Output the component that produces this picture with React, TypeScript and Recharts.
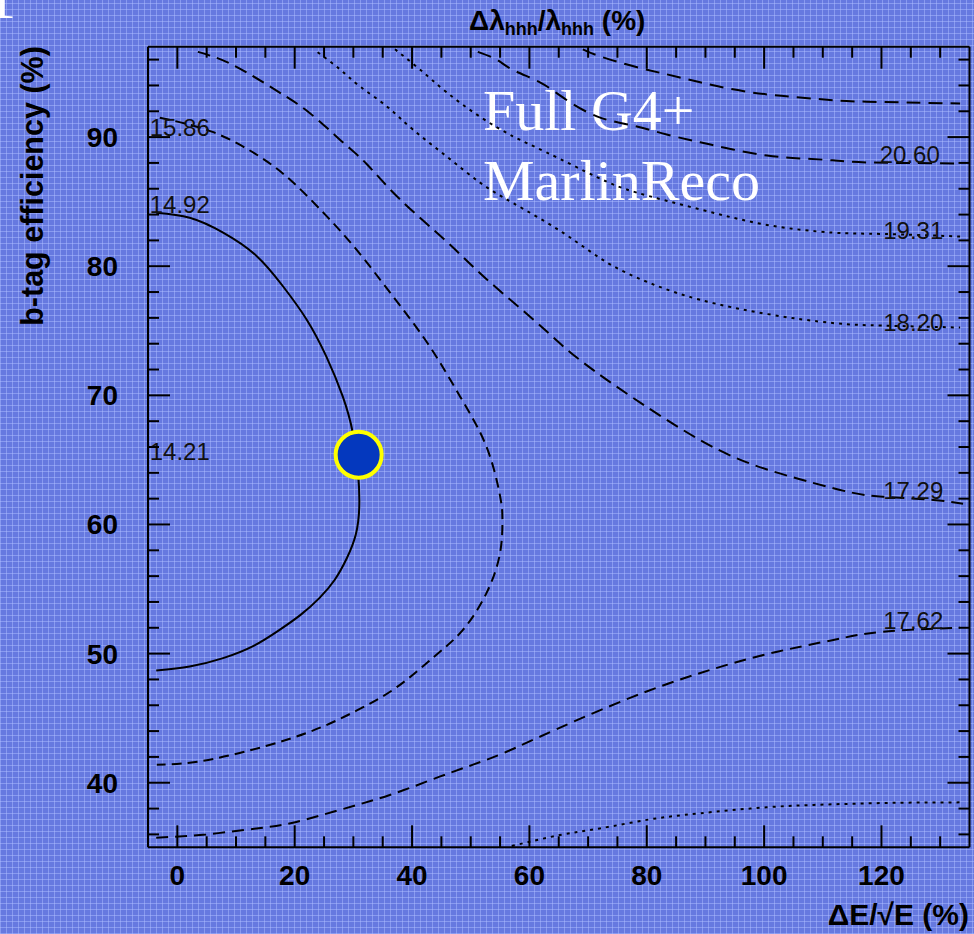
import React from 'react';
import { LineChart, Line, XAxis, YAxis, ReferenceDot } from 'recharts';

type Pt = [number, number];

// contour lines as [dE/sqrt(E) %, b-tag eff %]
const contour1492: Pt[] = [
  [-3.6, 84.14], [2.1, 83.75], [7.8, 82.6], [13.5, 80.8], [18.0, 78.45], [22.0, 75.9],
  [25.4, 73.0], [28.2, 69.9], [29.9, 67.1], [30.8, 64.0], [31.0, 61.3], [30.4, 59.2],
  [28.9, 57.4], [26.8, 55.7], [24.2, 54.3], [21.0, 53.0], [17.3, 51.8], [13.0, 50.6],
  [7.8, 49.65], [2.1, 49.0], [-3.6, 48.7],
];
const contour1586: Pt[] = [
  [-3.0, 91.5], [6.0, 90.4], [14.0, 88.5], [19.7, 86.5], [25.4, 83.9], [30.5, 81.3],
  [36.7, 77.7], [43.0, 73.8], [48.2, 69.9], [52.7, 66.0], [55.0, 62.2], [55.4, 60.4],
  [55.0, 57.8], [52.7, 54.7], [48.6, 51.8], [43.6, 49.7], [37.4, 47.4], [30.6, 45.6],
  [22.0, 43.85], [10.6, 42.3], [2.1, 41.55], [-3.5, 41.4],
];
const contourLowDashed: Pt[] = [
  [-3.6, 35.74], [4.9, 36.0], [13.5, 36.46], [19.7, 36.9], [27.7, 37.9], [36.2, 39.05],
  [44.7, 40.47], [50.4, 41.4], [56.1, 42.4], [64.6, 44.14], [77.7, 46.67], [89.0, 48.48],
  [100.4, 49.95], [111.8, 51.06], [120.3, 51.7], [133.4, 52.0],
];
const contourLowDotted: Pt[] = [
  [57.0, 35.1], [65.2, 35.95], [72.0, 36.46], [80.5, 37.16], [89.0, 37.63],
  [100.4, 38.1], [111.8, 38.33], [123.2, 38.45], [134.0, 38.48],
];
const contour1729: Pt[] = [
  [3.5, 96.6], [9.4, 95.6], [16.9, 93.6], [22.6, 91.85], [28.2, 89.6], [32.3, 87.9],
  [37.9, 85.2], [45.9, 81.9], [52.7, 79.0], [60.6, 75.9], [66.4, 73.55], [73.2, 71.2],
  [83.4, 68.1], [94.7, 65.25], [106.1, 63.5], [114.6, 62.5], [120.3, 62.15],
  [128.8, 61.9], [133.9, 61.6],
];
const contour1820: Pt[] = [
  [23.9, 96.57], [27.7, 95.25], [31.1, 93.93], [35.7, 92.38], [40.1, 90.6], [45.9, 88.5],
  [51.5, 86.5], [57.2, 84.9], [65.7, 82.6], [73.0, 80.35], [80.5, 78.7], [89.1, 77.4],
  [100.5, 76.3], [111.7, 75.6], [120.3, 75.4], [133.4, 75.25],
];
const contour1931: Pt[] = [
  [37.1, 96.8], [41.3, 95.25], [45.9, 93.47], [51.5, 91.6], [57.2, 90.06], [63.0, 88.8],
  [71.5, 86.9], [78.3, 85.7], [89.1, 84.4], [100.5, 83.2], [111.7, 82.6],
  [120.3, 82.5], [133.4, 82.3],
];
const contour2060: Pt[] = [
  [51.2, 96.6], [54.4, 96.0], [57.2, 95.2], [61.8, 94.24], [65.7, 93.07], [71.5, 91.6],
  [77.6, 90.9], [83.4, 90.2], [89.1, 89.6], [94.7, 89.04], [100.5, 88.57],
  [106.1, 88.35], [111.7, 88.2], [117.5, 88.04], [133.4, 87.96],
];
const contourTop: Pt[] = [
  [69.1, 96.8], [72.0, 96.26], [77.6, 95.5], [83.4, 94.86], [89.1, 94.24], [94.7, 93.7],
  [100.5, 93.3], [106.1, 93.07], [111.7, 92.85], [117.5, 92.74], [133.4, 92.6],
];

const contourLabels = [
  { text: '15.86', x: -4.7, y: 90.1 },
  { text: '14.92', x: -4.7, y: 84.1 },
  { text: '14.21', x: -4.7, y: 65.0 },
  { text: '20.60', x: 119.7, y: 88.0 },
  { text: '19.31', x: 120.3, y: 82.1 },
  { text: '18.20', x: 120.3, y: 75.0 },
  { text: '17.29', x: 120.3, y: 62.0 },
  { text: '17.62', x: 120.3, y: 51.9 },
];

const bestPoint = { x: 30.9, y: 65.4 };

const xTicks = [0, 5, 10, 15, 20, 25, 30, 35, 40, 45, 50, 55, 60, 65, 70, 75, 80, 85, 90, 95, 100, 105, 110, 115, 120, 125, 130];
const yTicks = [36, 38, 40, 42, 44, 46, 48, 50, 52, 54, 56, 58, 60, 62, 64, 66, 68, 70, 72, 74, 76, 78, 80, 82, 84, 86, 88, 90, 92, 94, 96];

const series = [
  { id: 'c1492', pts: contour1492, dash: undefined },
  { id: 'c1586', pts: contour1586, dash: '10 6' },
  { id: 'lowDashed', pts: contourLowDashed, dash: '12 7' },
  { id: 'lowDotted', pts: contourLowDotted, dash: '3 5' },
  { id: 'c1729', pts: contour1729, dash: '13 7' },
  { id: 'c1820', pts: contour1820, dash: '3 5' },
  { id: 'c1931', pts: contour1931, dash: '3 5' },
  { id: 'c2060', pts: contour2060, dash: '14 8' },
  { id: 'top', pts: contourTop, dash: '14 8' },
];

const FONT = '"Liberation Sans", Arial, Helvetica, sans-serif';
const SERIF = '"Liberation Serif", "Times New Roman", serif';

const BottomTick = (p: any) => {
  const v = p.payload.value;
  const major = v % 20 === 0;
  return (
    <g>
      <line x1={p.x} x2={p.x} y1={p.y} y2={p.y - (major ? 22 : 11)} stroke="#000" strokeWidth={2} />
      {major && (
        <text x={p.x} y={p.y + 38} textAnchor="middle" fontSize={28} fontWeight="bold" fontFamily={FONT} fill="#000">
          {v}
        </text>
      )}
    </g>
  );
};

const TopTick = (p: any) => {
  const major = p.payload.value % 20 === 0;
  return <line x1={p.x} x2={p.x} y1={p.y} y2={p.y + (major ? 22 : 11)} stroke="#000" strokeWidth={2} />;
};

const LeftTick = (p: any) => {
  const v = p.payload.value;
  const major = v % 10 === 0;
  return (
    <g>
      <line x1={p.x} x2={p.x + (major ? 22 : 11)} y1={p.y} y2={p.y} stroke="#000" strokeWidth={2} />
      {major && (
        <text x={p.x - 30} y={p.y + 10} textAnchor="end" fontSize={28} fontWeight="bold" fontFamily={FONT} fill="#000">
          {v}
        </text>
      )}
    </g>
  );
};

const RightTick = (p: any) => {
  const major = p.payload.value % 10 === 0;
  return <line x1={p.x} x2={p.x - (major ? 22 : 11)} y1={p.y} y2={p.y} stroke="#000" strokeWidth={2} />;
};

const bg =
  'repeating-linear-gradient(0deg, rgba(172,188,255,0.5) 0px, rgba(172,188,255,0.5) 1px, transparent 1px, transparent 6px),' +
  'repeating-linear-gradient(90deg, rgba(172,188,255,0.5) 0px, rgba(172,188,255,0.5) 1px, transparent 1px, transparent 6px),' +
  '#6679e0';

export default function App() {
  return (
    <div style={{ position: 'absolute', left: 0, top: 0, width: 974, height: 934, background: bg, overflow: 'hidden' }}>
      <svg width={974} height={934} style={{ position: 'absolute', left: 0, top: 0 }}>
        <text x={-13} y={18} fontFamily={SERIF} fontSize={58} fill="#fff">1</text>
        <text x={469} y={30} fontFamily={FONT} fontWeight="bold" fontSize={28} fill="#000">
          Δλ<tspan fontSize={18} dy={5}>hhh</tspan>
          <tspan dy={-5}>/λ</tspan>
          <tspan fontSize={18} dy={5}>hhh</tspan>
          <tspan dy={-5}> (%)</tspan>
        </text>
        <text x={969} y={925} textAnchor="end" fontFamily={FONT} fontWeight="bold" fontSize={30} fill="#000">
          ΔE/√E (%)
        </text>
        <text
          transform="translate(43,186) rotate(-90)"
          textAnchor="middle"
          fontFamily={FONT}
          fontWeight="bold"
          fontSize={30.5}
          fill="#000"
        >
          b-tag efficiency (%)
        </text>
        <text x={483} y={130} fontFamily={SERIF} fontSize={58} fill="#fff">Full G4+</text>
        <text x={483} y={200} fontFamily={SERIF} fontSize={58} fill="#fff">MarlinReco</text>
      </svg>
      <div style={{ position: 'absolute', left: 0, top: 0 }}>
        <LineChart width={974} height={934} margin={{ top: 45.7, right: 3.5, bottom: 36.7, left: 88 }}>
          <XAxis
            type="number"
            dataKey="x"
            domain={[-5, 135]}
            allowDataOverflow
            ticks={xTicks}
            interval={0}
            tickSize={0}
            tickMargin={0}
            tickLine={false}
            tick={BottomTick}
            height={50}
            axisLine={{ stroke: '#000', strokeWidth: 2 }}
          />
          <XAxis
            xAxisId="top"
            orientation="top"
            type="number"
            dataKey="x"
            domain={[-5, 135]}
            allowDataOverflow
            ticks={xTicks}
            interval={0}
            tickSize={0}
            tickMargin={0}
            tickLine={false}
            tick={TopTick}
            height={1}
            axisLine={{ stroke: '#000', strokeWidth: 2 }}
          />
          <YAxis
            type="number"
            dataKey="y"
            domain={[35, 97]}
            allowDataOverflow
            ticks={yTicks}
            interval={0}
            tickSize={0}
            tickMargin={0}
            tickLine={false}
            tick={LeftTick}
            width={60}
            axisLine={{ stroke: '#000', strokeWidth: 2 }}
          />
          <YAxis
            yAxisId="right"
            orientation="right"
            type="number"
            dataKey="y"
            domain={[35, 97]}
            allowDataOverflow
            ticks={yTicks}
            interval={0}
            tickSize={0}
            tickMargin={0}
            tickLine={false}
            tick={RightTick}
            width={1}
            axisLine={{ stroke: '#000', strokeWidth: 2 }}
          />
          {series.map(s => (
            <Line
              key={s.id}
              data={s.pts.map(([x, y]) => ({ x, y }))}
              dataKey="y"
              type="natural"
              stroke="#000"
              strokeWidth={2}
              strokeDasharray={s.dash}
              dot={false}
              activeDot={false}
              isAnimationActive={false}
            />
          ))}
          {contourLabels.map(l => (
            <ReferenceDot
              key={l.text}
              x={l.x}
              y={l.y}
              r={0}
              ifOverflow="visible"
              shape={(p: any) => (
                <text x={p.cx} y={p.cy} fontSize={24} fontFamily={FONT} fill="#111">
                  {l.text}
                </text>
              )}
            />
          ))}
          <ReferenceDot
            x={bestPoint.x}
            y={bestPoint.y}
            r={23}
            fill="#0438be"
            stroke="#ffff00"
            strokeWidth={4}
            ifOverflow="visible"
          />
        </LineChart>
      </div>
    </div>
  );
}
